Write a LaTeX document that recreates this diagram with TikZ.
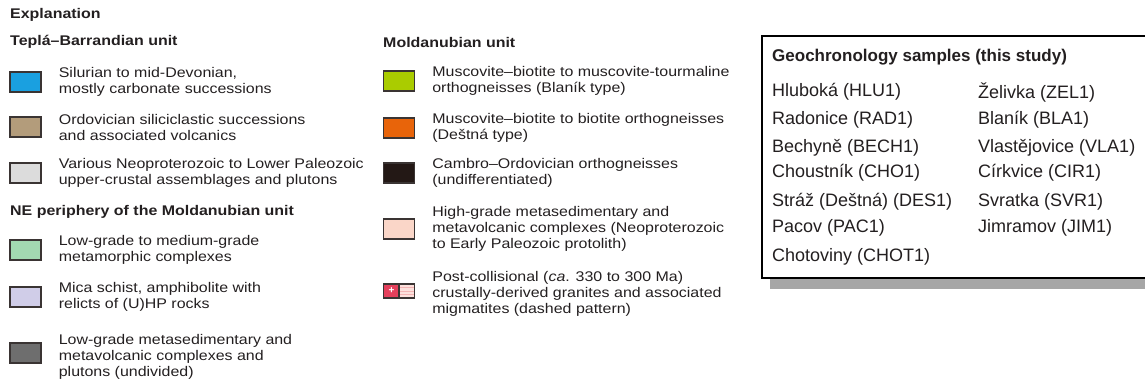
\documentclass[tikz,border=0pt]{standalone}
\usepackage{fontspec}
\setmainfont{Liberation Sans}
\newfontfamily\legfont{Liberation Sans}[FakeStretch=1.14]
\usetikzlibrary{positioning,calc}
\definecolor{legInk}{HTML}{231F20}
\definecolor{legEdge}{HTML}{3A3433}
\definecolor{legBlue}{HTML}{1AA0E0}
\definecolor{legTan}{HTML}{B39C7B}
\definecolor{legPale}{HTML}{DCDCDC}
\definecolor{legMint}{HTML}{A3D9B1}
\definecolor{legLilac}{HTML}{D0CDE8}
\definecolor{legSlate}{HTML}{6E6E6E}
\definecolor{legLime}{HTML}{AACC00}
\definecolor{legOrange}{HTML}{E8640A}
\definecolor{legCoal}{HTML}{231815}
\definecolor{legPeach}{HTML}{FAD6C8}
\definecolor{legRose}{HTML}{E5405C}
\definecolor{legBlush}{HTML}{FCE0DC}
\definecolor{legStripe}{HTML}{F2B3B3}
\definecolor{legShadow}{HTML}{A6A6A6}

\tikzset{
  swatch/.style={draw=legEdge, line width=1.3pt, minimum width=31pt,
    minimum height=20pt, inner sep=0pt},
  legtext/.style={anchor=west, align=left, inner sep=0pt, text=legInk,
    font=\legfont\fontsize{14}{16}\selectfont},
  leghead/.style={anchor=west, inner sep=0pt, text=legInk,
    font=\legfont\fontsize{14}{16}\selectfont\bfseries},
  sample/.style={anchor=west, inner sep=0pt, text=legInk,
    font=\fontsize{18}{20}\selectfont},
}

\begin{document}
\begin{tikzpicture}[x=1pt, y=-1pt]
  \useasboundingbox (0,0) rectangle (1145,383);

  % left column
  \node[leghead] (hexpl) at (10,15) {Explanation};
  \node[leghead] (htepla) at (10,42) {Teplá–Barrandian unit};
  \node[swatch, fill=legBlue] (sw1) at (25.5,82) {};
  \node[legtext, right=17pt of sw1] (t1) {Silurian to mid-Devonian,\\mostly carbonate successions};
  \node[swatch, fill=legTan] (sw2) at (25.5,127) {};
  \node[legtext, right=17pt of sw2] (t2) {Ordovician siliciclastic successions\\and associated volcanics};
  \node[swatch, fill=legPale] (sw3) at (25.5,173) {};
  \node[legtext, right=17pt of sw3] (t3) {Various Neoproterozoic to Lower Paleozoic\\upper-crustal assemblages and plutons};
  \node[leghead] (hperi) at (10,212) {NE periphery of the Moldanubian unit};
  \node[swatch, fill=legMint] (sw4) at (25.5,250) {};
  \node[legtext, right=17pt of sw4] (t4) {Low-grade to medium-grade\\metamorphic complexes};
  \node[swatch, fill=legLilac] (sw5) at (25.5,297) {};
  \node[legtext, right=17pt of sw5] (t5) {Mica schist, amphibolite with\\relicts of (U)HP rocks};
  \node[swatch, fill=legSlate] (sw6) at (25.5,353) {};
  \node[legtext, right=17pt of sw6, yshift=-4pt] (t6) {Low-grade metasedimentary and\\metavolcanic complexes and\\plutons (undivided)};

  % middle column
  \node[leghead] (hmold) at (383,42) {Moldanubian unit};
  \node[swatch, fill=legLime] (sw7) at (399,81) {};
  \node[legtext, right=17pt of sw7] (t7) {Muscovite–biotite to muscovite-tourmaline\\orthogneisses (Blaník type)};
  \node[swatch, fill=legOrange] (sw8) at (399,128) {};
  \node[legtext, right=17pt of sw8] (t8) {Muscovite–biotite to biotite orthogneisses\\(Deštná type)};
  \node[swatch, fill=legCoal] (sw9) at (399,173) {};
  \node[legtext, right=17pt of sw9] (t9) {Cambro–Ordovician orthogneisses\\(undifferentiated)};
  \node[swatch, fill=legPeach] (sw10) at (399,229) {};
  \node[legtext, right=17pt of sw10] (t10) {High-grade metasedimentary and\\metavolcanic complexes (Neoproterozoic\\to Early Paleozoic protolith)};
  \node[swatch, minimum height=14pt, path picture={
      \fill[legBlush] (path picture bounding box.north) rectangle (path picture bounding box.south east);
      \foreach \k in {0.25,0.5,0.75}
        \draw[legStripe, line width=1pt] ($(path picture bounding box.south)!\k!(path picture bounding box.north)$) -- ++(20,0);
      \fill[legRose] (path picture bounding box.north west) rectangle (path picture bounding box.south);
      \draw[legEdge, line width=1.3pt] (path picture bounding box.north) -- (path picture bounding box.south);
    }] (sw11) at (399,291) {};
  \node[text=white, font=\fontsize{10}{10}\selectfont\bfseries, inner sep=0pt] (plus) at ([xshift=-7.5pt]sw11.center) {+};
  \node[legtext, right=17pt of sw11, yshift=-3pt] (t11) {Post-collisional (\emph{ca}. 330 to 300 Ma)\\crustally-derived granites and associated\\migmatites (dashed pattern)};

  % samples box
  \fill[legShadow] (770,278) rectangle (1160,289);
  \draw[black, line width=2pt, fill=white] (762,36) rectangle (1160,278);
  \node[sample, font=\fontsize{17}{20}\selectfont\bfseries] (hgeo) at (772,57) {Geochronology samples (this study)};
  \node[sample] (s1) at (772,92) {Hluboká (HLU1)};
  \node[sample] (s2) at (772,120) {Radonice (RAD1)};
  \node[sample] (s3) at (772,148) {Bechyně (BECH1)};
  \node[sample] (s4) at (772,173) {Choustník (CHO1)};
  \node[sample] (s5) at (772,202) {Stráž (Deštná) (DES1)};
  \node[sample] (s6) at (772,228) {Pacov (PAC1)};
  \node[sample] (s7) at (772,257) {Chotoviny (CHOT1)};
  \node[sample] (s8) at (978,92) {Želivka (ZEL1)};
  \node[sample] (s9) at (978,120) {Blaník (BLA1)};
  \node[sample] (s10) at (978,148) {Vlastějovice (VLA1)};
  \node[sample] (s11) at (978,173) {Církvice (CIR1)};
  \node[sample] (s12) at (978,202) {Svratka (SVR1)};
  \node[sample] (s13) at (978,228) {Jimramov (JIM1)};
\end{tikzpicture}
\end{document}
